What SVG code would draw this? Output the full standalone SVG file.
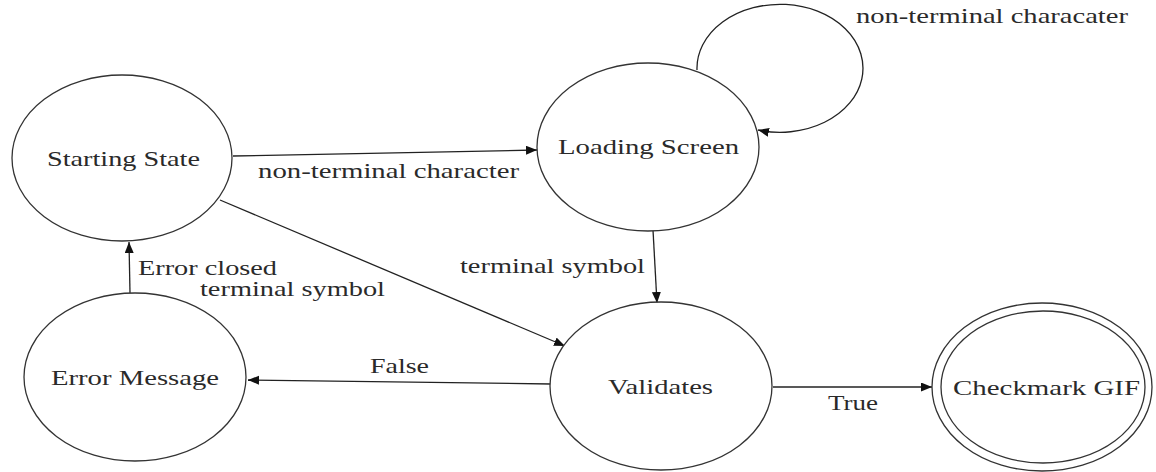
<svg xmlns="http://www.w3.org/2000/svg" width="1156" height="472" viewBox="0 0 1156 472">
  <style>
    .state { fill: #ffffff; stroke: #333333; stroke-width: 1.3; }
    .edge { fill: none; stroke: #222222; stroke-width: 1.3; marker-end: url(#arrow); }
    .lbl { font-family: 'Liberation Serif', Tinos, 'Times New Roman', 'Noto Serif', 'DejaVu Serif', serif; font-size: 21px; fill: #2a2a2a; }
  </style>
  <defs>
    <marker id="arrow" markerUnits="userSpaceOnUse" markerWidth="12" markerHeight="10" refX="11" refY="4.5" orient="auto">
      <path d="M0,0 L11,4.5 L0,9 z" fill="#111111"/>
    </marker>
  </defs>
  <rect width="1156" height="472" fill="#ffffff"/>

  <!-- transitions -->
  <g id="connectors">
    <line class="edge" x1="233" y1="156" x2="537" y2="150"/>
    <line class="edge" x1="220" y1="200" x2="565" y2="346"/>
    <line class="edge" x1="653" y1="230" x2="657" y2="303"/>
    <line class="edge" x1="551" y1="384" x2="248" y2="380"/>
    <line class="edge" x1="130" y1="293" x2="129" y2="242"/>
    <line class="edge" x1="773" y1="387" x2="932" y2="387"/>
    <path class="edge" d="M697,70 A83,64 0 1 1 758,130"/>
    <text class="lbl" x="258" y="178" textLength="261" lengthAdjust="spacingAndGlyphs">non-terminal character</text>
    <text class="lbl" x="856" y="23" textLength="272" lengthAdjust="spacingAndGlyphs">non-terminal characater</text>
    <text class="lbl" x="460" y="273" textLength="185" lengthAdjust="spacingAndGlyphs">terminal symbol</text>
    <text class="lbl" x="138" y="275" textLength="139" lengthAdjust="spacingAndGlyphs">Error closed</text>
    <text class="lbl" x="200" y="296" textLength="185" lengthAdjust="spacingAndGlyphs">terminal symbol</text>
    <text class="lbl" x="370" y="373" textLength="59" lengthAdjust="spacingAndGlyphs">False</text>
    <text class="lbl" x="828" y="410" textLength="50" lengthAdjust="spacingAndGlyphs">True</text>
  </g>

  <g id="starting-state">
    <ellipse class="state" cx="122" cy="158" rx="110" ry="83"/>
    <text class="lbl" x="47" y="166" textLength="153" lengthAdjust="spacingAndGlyphs">Starting State</text>
  </g>

  <g id="loading-screen">
    <ellipse class="state" cx="648" cy="147" rx="111" ry="84"/>
    <text class="lbl" x="558" y="154" textLength="181" lengthAdjust="spacingAndGlyphs">Loading Screen</text>
  </g>

  <g id="error-message">
    <ellipse class="state" cx="135" cy="377" rx="111" ry="84"/>
    <text class="lbl" x="51" y="385" textLength="168" lengthAdjust="spacingAndGlyphs">Error Message</text>
  </g>

  <g id="validates">
    <ellipse class="state" cx="661" cy="386" rx="111" ry="84"/>
    <text class="lbl" x="608" y="394" textLength="105" lengthAdjust="spacingAndGlyphs">Validates</text>
  </g>

  <g id="checkmark-gif">
    <ellipse class="state" cx="1042" cy="387" rx="110" ry="84"/>
    <ellipse class="state" cx="1043" cy="387" rx="102" ry="76"/>
    <text class="lbl" x="953" y="395" textLength="187" lengthAdjust="spacingAndGlyphs">Checkmark GIF</text>
  </g>
</svg>
